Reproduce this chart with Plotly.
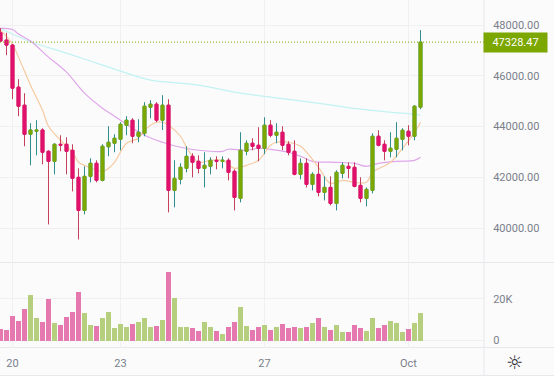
import pandas as pd
import plotly.graph_objects as go

W, H = 554, 380
dates = pd.date_range("2021-09-19 16:00", periods=71, freq="4h")

opens = [47696,47408,47211,45554,44844,43700,43818,43866,43029,42635,43305,43305,43069,42003,40701,42043,42556,41885,43206,43345,
         43503,44055,44252,43621,43739,44765,44883,44252,44844,41490,41925,42358,42832,42635,42358,42437,42674,42635,42674,42240,
         41175,43029,43345,43266,43148,44055,43660,43779,43305,43029,42122,42556,41727,42122,41412,41609,40977,42161,42437,42398,
         41688,41175,41490,43621,43305,43029,43108,43503,43818,43621,44765]
closes = [47368,47211,45514,44804,43700,43866,43866,42990,42635,43305,43266,43029,41964,40701,42043,42556,41885,43226,43384,43542,
          44094,44252,43621,43779,44804,44883,44252,44844,41490,41964,42398,42832,42595,42358,42477,42674,42635,42674,42201,41214,
          43069,43345,43226,43148,44055,43660,43779,43266,42990,42122,42556,41727,42122,41412,41609,40977,42201,42477,42358,41648,
          41175,41530,43621,43266,43029,43148,43542,43858,43621,44804,47328.47]
highs = [47881,47696,47250,45869,45317,44134,44252,43936,43069,43345,43660,43581,43305,42358,42437,42753,42674,43305,44015,43700,
         44173,44410,44331,44291,44962,45041,44962,45238,45080,42674,42556,43226,42950,42871,42990,42792,42832,42832,42753,42319,
         43779,43463,43542,43976,44370,44252,44134,44015,43424,43463,42753,42753,42201,42595,42043,42043,42280,42595,42595,42595,
         42003,41609,43739,43858,43463,43779,44173,43936,44055,44844,47802]
lows = [47329,46816,45080,44410,43226,42477,42871,42516,40149,42122,43029,42122,41451,39557,40544,41806,41806,41846,42832,42990,
        43069,43660,43345,43384,43621,44331,44173,43866,40623,40820,41727,42201,42003,42161,41609,42122,42319,42358,41885,40701,
        41017,42871,43069,42635,42911,43581,43345,43069,42871,42082,41925,41609,41490,41254,41096,40899,40701,41964,41964,41609,
        41017,40859,41372,43226,42674,42792,42792,43069,43266,43463,44686]
volumes = [5800,5300,12000,9600,15400,22000,11000,9100,20200,8600,7700,11500,13900,23500,13400,7700,7200,11000,13900,6200,
           8200,6700,8200,9100,11000,6700,7200,10000,33000,20600,6700,6700,6200,4800,9100,6700,4800,3400,6700,9100,
           16300,7200,5300,6700,7700,5300,6700,8200,6200,6700,6200,6700,8600,11000,6700,5300,7700,4300,4300,7700,
           6200,4800,11000,6200,7700,9600,8600,4300,5800,8600,13400]

ma_fast_idx = [0,2,3,5,7,8,10,12,13,14,17,18,19,21,23,24,26,27,28,30,31,33,35,37,39,41,43,45,46,48,50,53,55,57,59,61,62,65,67,69,70]
ma_fast = [47802,47250,46737,45633,44647,44015,43463,42990,42595,42477,42240,42358,42595,43345,43542,43858,44173,44173,44055,43621,43187,42595,42674,42674,42358,42477,42674,43266,43384,43384,43226,42398,41767,41885,41806,41806,42201,42595,43148,43765,44173]
ma_mid_idx = [0,2,3,5,8,11,14,17,19,20,24,27,30,33,37,38,41,43,45,48,50,52,56,59,61,63,66,69,70]
ma_mid = [47881,47822,47645,47369,46737,46146,45317,44725,44410,44252,43660,43384,43187,43069,43029,43108,43069,43148,43108,42990,42832,42635,42595,42556,42437,42556,42635,42674,42792]
ma_slow_idx = [0,5,11,17,23,25,33,40,45,49,54,60,65,69,70]
ma_slow = [47862,47341,46895,46422,45960,45830,45633,45317,45159,45041,44883,44686,44568,44489,44449]

tick_dates = ["2021-09-20", "2021-09-23", "2021-09-27", "2021-10-01"]
tick_text = ["20", "23", "27", "Oct"]
price_ticks = [40000, 42000, 44000, 46000, 48000]
volume_ticks = [0, 20000]
volume_text = ["0", "20K"]
last_price = closes[-1]

UP, DOWN = "#7ca600", "#e0106c"
UP_WICK, DOWN_WICK = "#2f8d8d", "#c4405c"
UP_VOL, DOWN_VOL = "#b6cf7e", "#e678b0"
GRID, TEXT, BG = "#f0f0f3", "#7a7f8a", "#fbfbfc"
FONT = "Roboto"

def py(px):
    return 1 - px / H

up_idx = [i for i in range(71) if closes[i] >= opens[i]]
down_idx = [i for i in range(71) if closes[i] < opens[i]]

fig = go.Figure()
for idx, vals, col in [(ma_slow_idx, ma_slow, "#c2f2f2"), (ma_mid_idx, ma_mid, "#dfa6ea"), (ma_fast_idx, ma_fast, "#f5caa0")]:
    fig.add_trace(go.Scatter(x=dates[idx], y=vals, mode="lines", line=dict(color=col, width=1.2, shape="spline"),
                             xaxis="x", yaxis="y", hoverinfo="skip"))

def pick(arr, ids):
    return [arr[i] for i in ids]

for ids, wick, body in [(up_idx, UP_WICK, UP), (down_idx, DOWN_WICK, DOWN)]:
    o, c, h, l = pick(opens, ids), pick(closes, ids), pick(highs, ids), pick(lows, ids)
    fig.add_trace(go.Candlestick(x=dates[ids], open=o, close=c, high=h, low=l, xaxis="x", yaxis="y3",
                                 whiskerwidth=0,
                                 increasing=dict(line=dict(color=wick, width=1), fillcolor="rgba(0,0,0,0)"),
                                 decreasing=dict(line=dict(color=wick, width=1), fillcolor="rgba(0,0,0,0)")))
for ids, body in [(up_idx, UP), (down_idx, DOWN)]:
    o, c = pick(opens, ids), pick(closes, ids)
    top = [max(a, b) for a, b in zip(o, c)]
    bot = [min(a, b) for a, b in zip(o, c)]
    fig.add_trace(go.Candlestick(x=dates[ids], open=o, close=c, high=top, low=bot, xaxis="x", yaxis="y3",
                                 whiskerwidth=0,
                                 increasing=dict(line=dict(color=body, width=1), fillcolor=body),
                                 decreasing=dict(line=dict(color=body, width=1), fillcolor=body)))

bar_ms = 4 * 3600 * 1000 * 5 / 6
fig.add_trace(go.Bar(x=dates, y=volumes, width=bar_ms, xaxis="x", yaxis="y2",
                     marker=dict(color=[UP_VOL if closes[i] >= opens[i] else DOWN_VOL for i in range(71)], line_width=0)))

shapes = [
    dict(type="line", xref="x domain", x0=0, x1=1, yref="y", y0=last_price, y1=last_price,
         line=dict(color=UP, width=1, dash="1px,2px")),
    dict(type="rect", xref="paper", yref="paper", x0=0, x1=1, y0=0, y1=py(375.5), fillcolor="white",
         line_width=0, layer="below"),
]
for px_y in [262.5, 347.5, 375.5]:
    shapes.append(dict(type="line", xref="paper", yref="paper", x0=0, x1=1, y0=py(px_y), y1=py(px_y),
                       line=dict(color="#e8e8ec", width=1), layer="below"))
shapes.append(dict(type="line", xref="paper", yref="paper", x0=484 / 554, x1=484 / 554, y0=py(375), y1=1,
                   line=dict(color="#e8e8ec", width=1), layer="below"))

annotations = [
    dict(xref="paper", yref="y", x=483 / W, y=last_price, xanchor="left", yanchor="middle", showarrow=False,
         text=f"{last_price:.2f}", font=dict(family=FONT, size=11, color="white"), bgcolor=UP,
         width=63, height=19, align="center", borderpad=0),
    dict(xref="paper", yref="paper", x=514.5 / W, y=py(362), xanchor="center", yanchor="middle", showarrow=False,
         text="\u263c", font=dict(family="DejaVu Sans", size=19, color="#2b2b33")),
]

fig.update_layout(
    width=W, height=H, margin=dict(l=0, r=0, t=0, b=0), showlegend=False,
    paper_bgcolor=BG, plot_bgcolor=BG, bargap=0, boxgap=0.3,
    font=dict(family=FONT, size=11, color=TEXT),
    shapes=shapes, annotations=annotations,
    xaxis=dict(domain=[0, 484 / W], anchor="y2", type="date", rangeslider=dict(visible=False),
               range=["2021-09-19 15:40", "2021-10-03 02:20"], tickmode="array", tickvals=tick_dates, ticktext=tick_text,
               showgrid=True, gridcolor=GRID, gridwidth=1, ticks="outside", ticklen=5, tickcolor="rgba(0,0,0,0)",
               zeroline=False, showline=False),
    yaxis=dict(domain=[py(262.5), 1], anchor="x", side="right", range=[38650, 48986], tickmode="array", tickvals=price_ticks,
               tickformat=".2f", showgrid=True, gridcolor=GRID, zeroline=False, ticks="outside", ticklen=6,
               tickcolor="rgba(0,0,0,0)", showline=False),
    yaxis3=dict(overlaying="y", anchor="x", side="right", range=[38650, 48986], visible=False),
    yaxis2=dict(domain=[py(347.5), py(262.5)], anchor="x", side="right", range=[-3615, 37600], tickmode="array",
                tickvals=volume_ticks, ticktext=volume_text, showgrid=True, gridcolor=GRID, zeroline=False,
                ticks="outside", ticklen=6, tickcolor="rgba(0,0,0,0)", showline=False),
)

fig.write_html("out.html", config=dict(displayModeBar=False),
               post_script="document.body.style.margin='0';document.body.style.overflow='hidden';document.documentElement.style.background='%s';" % BG)
